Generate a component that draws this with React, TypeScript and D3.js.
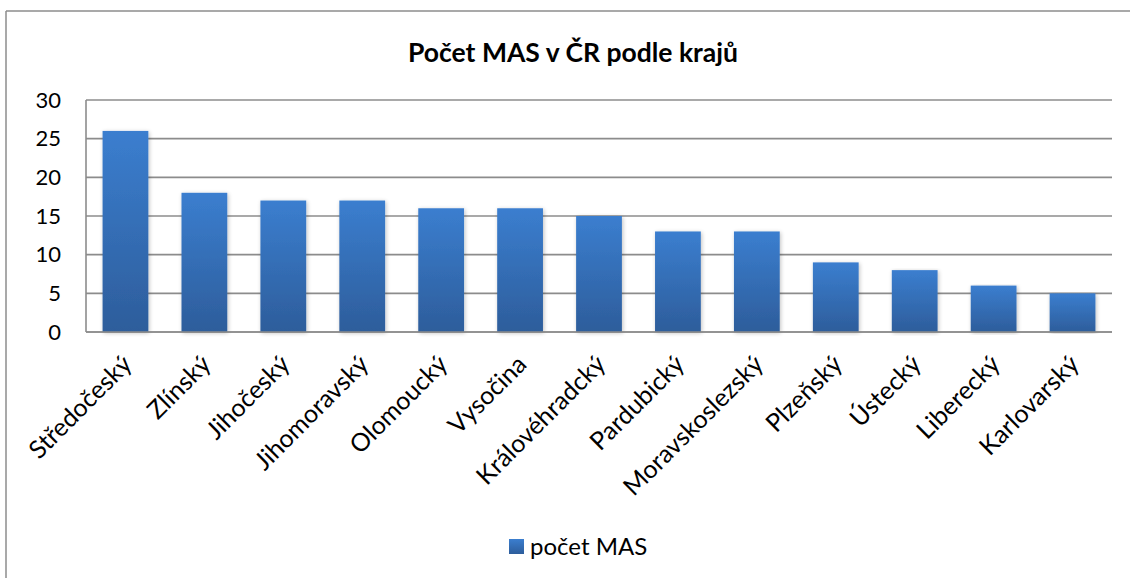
import React from "react";
import * as d3 from "d3";

const categories = [
  "Středočeský", "Zlínský", "Jihočeský", "Jihomoravský", "Olomoucký", "Vysočina",
  "Královéhradcký", "Pardubický", "Moravskoslezský", "Plzeňský", "Ústecký", "Liberecký", "Karlovarský",
];
const values = [26, 18, 17, 17, 16, 16, 15, 13, 13, 9, 8, 6, 5];
const yTicks = [0, 5, 10, 15, 20, 25, 30];
const seriesName = "počet MAS";
const title = "Počet MAS v ČR podle krajů";

const W = 1130, H = 578;
const plot = { left: 86, right: 1112, top: 100, bottom: 332 };
const FONT = "Lato, 'Open Sans', sans-serif";

export default function App() {
  const x = d3.scaleBand<string>().domain(categories).range([plot.left, plot.right]).paddingInner(0.42).paddingOuter(0.21);
  const y = d3.scaleLinear().domain([0, 30]).range([plot.bottom, plot.top]);
  const grid = "#8c8c8c";
  return (
    <svg width={W} height={H} style={{ position: "fixed", left: 0, top: 0, background: "#fff" }} fontFamily={FONT}>
      <defs>
        <linearGradient id="barGrad" x1="0" y1="0" x2="0" y2="1">
          <stop offset="0" stopColor="#3b7ecf" />
          <stop offset="1" stopColor="#2d5d9b" />
        </linearGradient>
        <filter id="sh" x="-20%" y="-5%" width="140%" height="110%">
          <feGaussianBlur in="SourceAlpha" stdDeviation="2" />
          <feOffset dx="1" dy="1" result="b" />
          <feComponentTransfer><feFuncA type="linear" slope="0.25" /></feComponentTransfer>
          <feMerge><feMergeNode /><feMergeNode in="SourceGraphic" /></feMerge>
        </filter>
      </defs>
      <rect x={0} y={0} width={W} height={H} fill="#fff" />
      <line x1={6} x2={W} y1={11} y2={11} stroke={grid} strokeWidth={1.5} />
      <line x1={6} x2={6} y1={11} y2={H} stroke={grid} strokeWidth={1.5} />

      <text x={573} y={62} textAnchor="middle" fontSize={26.5} fontWeight="bold" fill="#000">{title}</text>

      {yTicks.map((t) => (
        <g key={t}>
          <line x1={plot.left} x2={plot.right} y1={y(t)} y2={y(t)} stroke={grid} strokeWidth={1.6} />
          <text x={61} y={y(t)} dy="0.35em" textAnchor="end" fontSize={22} fill="#000">{t}</text>
        </g>
      ))}
      <line x1={plot.left} x2={plot.left} y1={plot.top} y2={plot.bottom} stroke={grid} strokeWidth={1.6} />

      {categories.map((c, i) => (
        <rect key={c} x={x(c)} y={y(values[i])} width={x.bandwidth()} height={y(0) - y(values[i])} fill="url(#barGrad)" filter="url(#sh)" />
      ))}
      <line x1={plot.left} x2={plot.right} y1={plot.bottom} y2={plot.bottom} stroke={grid} strokeWidth={1.6} />

      {categories.map((c) => {
        const cx = (x(c) as number) + x.bandwidth() / 2;
        return (
          <text key={c} transform={`translate(${cx + 8},${366}) rotate(-45)`} textAnchor="end" fontSize={25} fill="#000">{c}</text>
        );
      })}

      <rect x={509} y={539} width={15} height={15} fill="url(#barGrad)" />
      <text x={530} y={555} fontSize={24} fill="#000">{seriesName}</text>
    </svg>
  );
}
